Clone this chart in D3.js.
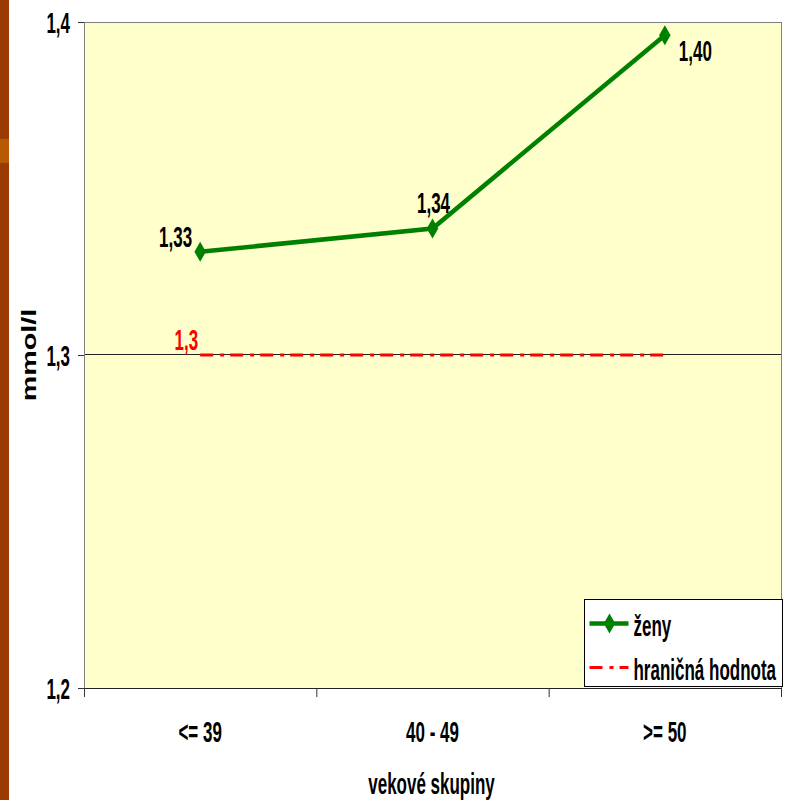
<!DOCTYPE html>
<html>
<head>
<meta charset="utf-8">
<script src="https://cdn.jsdelivr.net/npm/d3@7"></script>
<style>
  body { margin: 0; background: #fff; }
  svg text { font-family: "Liberation Sans", Arial, sans-serif; font-weight: bold; }
</style>
</head>
<body>
<div class="chart"></div>
<script>
// data
const categories = ['<= 39', '40 - 49', '>= 50'];
const zeny = [1.331, 1.338, 1.396];
const hranicna = [1.3, 1.3, 1.3];
const yTicks = [1.2, 1.3, 1.4];
const seriesNames = ['ženy', 'hraničná hodnota'];
const xTitle = 'vekové skupiny';
const yTitle = 'mmol/l';

const w = 792;
const h = 800;
const plot = { left: 84, top: 22, right: 781, bottom: 688 };
const SY = 1.7; // texts in the picture are stretched vertically

const locale = d3.formatLocale({ decimal: ',', thousands: ' ', grouping: [3], currency: ['', ''] });
const fmt1 = locale.format('.1f');
const fmt2 = locale.format('.2f');

const svg = d3.select('.chart')
  .append('svg')
  .attr('width', w)
  .attr('height', h);

// brown strip at the left edge
svg.append('rect').attr('x', 0).attr('y', 0).attr('width', 9).attr('height', h).attr('fill', '#9a3c02');
svg.append('rect').attr('x', 0).attr('y', 139).attr('width', 9).attr('height', 24).attr('fill', '#b85a04');

const x = d3.scaleBand().domain(categories).range([plot.left, plot.right]);
const y = d3.scaleLinear().domain([1.2, 1.4]).range([plot.bottom, plot.top]);
const cx = d => x(d) + x.bandwidth() / 2;

// plot area
svg.append('rect')
  .attr('x', plot.left + 0.5).attr('y', plot.top + 0.5)
  .attr('width', plot.right - plot.left).attr('height', plot.bottom - plot.top)
  .attr('fill', '#ffffcc')
  .attr('stroke', '#808080');

// gridline
svg.append('g')
  .selectAll('line')
  .data(yTicks.filter(t => t > 1.2 && t < 1.4))
  .enter()
  .append('line')
  .attr('x1', plot.left).attr('x2', plot.right)
  .attr('y1', d => y(d) - 0.5).attr('y2', d => y(d) - 0.5)
  .attr('stroke', '#222');

// y axis
const yAxis = svg.append('g')
  .attr('transform', `translate(${plot.left},0)`)
  .call(d3.axisLeft(y).tickValues(yTicks).tickSize(6).tickSizeOuter(0).tickFormat(fmt1));
yAxis.select('.domain').attr('stroke', '#808080');
yAxis.selectAll('line').attr('stroke', '#333');
yAxis.selectAll('text')
  .attr('x', -14)
  .attr('dy', '0.36em')
  .attr('transform', `scale(1,${SY})`)
  .attr('font-size', 17)
  .attr('fill', '#000');

// x axis
const xAxis = svg.append('g')
  .attr('transform', `translate(0,${plot.bottom})`)
  .call(d3.axisBottom(x).tickSize(0).tickSizeOuter(0));
xAxis.select('.domain').attr('stroke', '#222');
xAxis.selectAll('text')
  .attr('y', 0)
  .attr('dy', 0)
  .attr('transform', `translate(0,54) scale(1,${SY})`)
  .attr('font-size', 17)
  .attr('fill', '#000');

// x ticks at band edges
xAxis.selectAll('.edge')
  .data(categories.map(d => x(d)).concat([x.range()[1]]))
  .enter()
  .append('line')
  .attr('class', 'edge')
  .attr('x1', d => d + 0.5).attr('x2', d => d + 0.5)
  .attr('y1', 0).attr('y2', 9)
  .attr('stroke', '#333');

// axis titles
svg.append('text')
  .attr('transform', `translate(${x.range()[0] + (x.range()[1] - x.range()[0]) / 2 - 1},794) scale(1,${SY})`)
  .attr('text-anchor', 'middle')
  .attr('font-size', 17)
  .text(xTitle);

svg.append('text')
  .attr('transform', `translate(36,${y(1.3)}) rotate(-90) scale(1.47,1)`)
  .attr('text-anchor', 'middle')
  .attr('font-size', 19.5)
  .text(yTitle);

// threshold line
const redDash = '13,7,4,6';
const line = d3.line().x(d => cx(d.cat)).y(d => y(d.v));

svg.append('path')
  .datum(categories.map((c, i) => ({ cat: c, v: hranicna[i] })))
  .attr('d', line)
  .attr('fill', 'none')
  .attr('stroke', '#ff0000')
  .attr('stroke-width', 3)
  .attr('stroke-dasharray', redDash);

svg.append('text')
  .attr('transform', `translate(${cx(categories[0]) - 2},${y(hranicna[0]) - 5}) scale(1,${SY})`)
  .attr('text-anchor', 'end')
  .attr('font-size', 17)
  .attr('fill', '#ff0000')
  .text(fmt1(hranicna[0]));

// zeny series
const pts = categories.map((c, i) => ({ cat: c, v: zeny[i] }));
svg.append('path')
  .datum(pts)
  .attr('d', line)
  .attr('fill', 'none')
  .attr('stroke', '#008000')
  .attr('stroke-width', 4.5);

const diamond = d3.symbol().type(d3.symbolDiamond).size(115);
svg.selectAll('.marker')
  .data(pts)
  .enter()
  .append('path')
  .attr('class', 'marker')
  .attr('d', diamond)
  .attr('transform', d => `translate(${cx(d.cat)},${y(d.v)})`)
  .attr('fill', '#008000');

// data labels (excel-like placement: left, above, right-below)
const labelPlace = [
  { dx: -8, dy: -5, anchor: 'end' },
  { dx: 1, dy: -15, anchor: 'middle' },
  { dx: 14, dy: 26, anchor: 'start' }
];
svg.selectAll('.dlabel')
  .data(pts)
  .enter()
  .append('text')
  .attr('class', 'dlabel')
  .attr('transform', (d, i) => `translate(${cx(d.cat) + labelPlace[i].dx},${y(d.v) + labelPlace[i].dy}) scale(1,${SY})`)
  .attr('text-anchor', (d, i) => labelPlace[i].anchor)
  .attr('font-size', 17)
  .text(d => fmt2(d.v));

// legend
const legend = svg.append('g').attr('transform', 'translate(584.5,599.5)');
legend.append('rect')
  .attr('width', 198).attr('height', 87)
  .attr('fill', '#fff')
  .attr('stroke', '#000');

const legendItem = legend.selectAll('.legend-item')
  .data(seriesNames)
  .enter()
  .append('g')
  .attr('class', 'legend-item')
  .attr('transform', (_, i) => `translate(0,${24 + i * 44})`);

legendItem.append('line')
  .attr('x1', 5).attr('x2', 44)
  .attr('stroke', (_, i) => i === 0 ? '#008000' : '#ff0000')
  .attr('stroke-width', (_, i) => i === 0 ? 4.5 : 3)
  .attr('stroke-dasharray', (_, i) => i === 0 ? null : redDash);

legendItem.filter((_, i) => i === 0)
  .append('path')
  .attr('d', diamond)
  .attr('transform', 'translate(25,0)')
  .attr('fill', '#008000');

legendItem.append('text')
  .attr('transform', `translate(49,12) scale(1,${SY})`)
  .attr('font-size', 17)
  .text(d => d);
</script>
</body>
</html>
